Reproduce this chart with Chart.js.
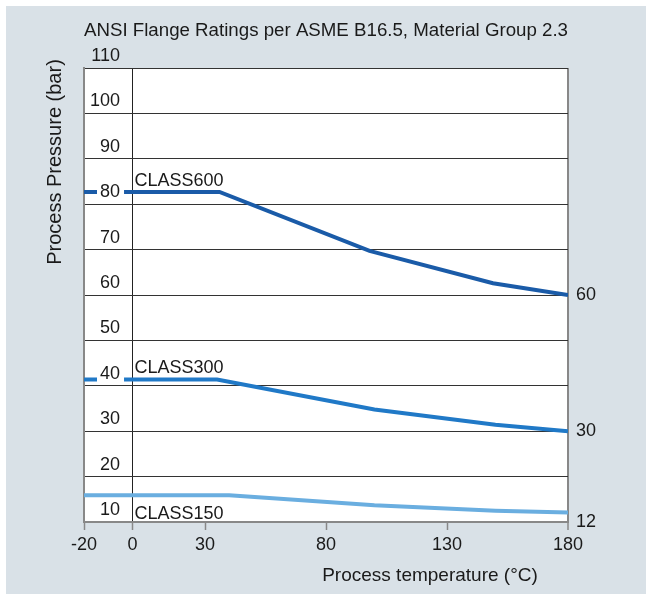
<!DOCTYPE html>
<html>
<head>
<meta charset="utf-8">
<script src="https://cdn.jsdelivr.net/npm/chart.js@4.4.1/dist/chart.umd.min.js"></script>
<style>
  html, body { margin: 0; padding: 0; background: #fff; }
  canvas { display: block; }
</style>
</head>
<body>
<canvas id="grafico" width="646" height="594"></canvas>
<script>
// datos
var xTicks = [-20, 0, 30, 80, 130, 180]
var temps600 = [-20, 36, 98, 149, 180]
var class600 = [82.7, 82.7, 69.7, 62.6, 60.0]
var temps300 = [-20, 35, 100, 150, 180]
var class300 = [41.4, 41.4, 34.8, 31.4, 30.0]
var temps150 = [-20, 40, 100, 150, 180]
var class150 = [15.9, 15.9, 13.7, 12.5, 12.1]
var classNames = ["CLASS600", "CLASS300", "CLASS150"]
var endLabels = ["60", "30", "12"]

var FONT = "'Liberation Sans', Arial, sans-serif"
var colores = ['#1a5ba8', '#2079c7', '#6aaee0']

function puntos(xs, ys){
    return xs.map(function(x, i){ return {x: x, y: ys[i]} })
}

// fondo gris, area blanca y textos sueltos
var textos = {
    id: 'textos',
    beforeDraw: function(chart){
        var c = chart.ctx, a = chart.chartArea
        c.save()
        c.fillStyle = '#d9e1e7'
        c.fillRect(6, 6, 640, 588)
        c.fillStyle = '#fff'
        c.fillRect(a.left, a.top, a.right - a.left, a.bottom - a.top)
        c.restore()
    },
    afterDraw: function(chart){
        var c = chart.ctx, a = chart.chartArea
        var sx = chart.scales.x, sy = chart.scales.y
        c.save()
        c.fillStyle = '#1a1a1a'
        c.textAlign = 'center'
        c.textBaseline = 'middle'
        c.font = '18.7px ' + FONT
        c.fillText("ANSI Flange Ratings per ASME B16.5, Material Group 2.3", (a.left + a.right) / 2, 31)
        c.font = '19px ' + FONT
        c.fillText("Process temperature (°C)", 430, 576)
        c.save()
        c.translate(55, 162)
        c.rotate(-Math.PI / 2)
        c.font = '20px ' + FONT
        c.fillText("Process Pressure (bar)", 0, 0)
        c.restore()

        // nombres de clase
        c.font = '18px ' + FONT
        var x0 = sx.getPixelForValue(0) + 2
        c.textAlign = 'left'
        c.textBaseline = 'alphabetic'
        c.fillText(classNames[0], x0, sy.getPixelForValue(class600[0]) - 6)
        c.fillText(classNames[1], x0, sy.getPixelForValue(class300[0]) - 6)
        c.fillText(classNames[2], x0, a.bottom - 3)

        // valores al final
        c.textBaseline = 'middle'
        var finales = [class600, class300, class150]
        var ajuste = [0, 0, 10]
        for (var i = 0; i < 3; i++){
            var v = finales[i][finales[i].length - 1]
            c.fillText(endLabels[i], a.right + 8, sy.getPixelForValue(v) + ajuste[i])
        }
        c.restore()
    }
}

function crearGrafico(){
    var g = document.getElementById("grafico").getContext('2d')
    new Chart(g, {
        type: 'line',
        data: {
            datasets: [
                {label: classNames[0], data: puntos(temps600, class600), borderColor: colores[0]},
                {label: classNames[1], data: puntos(temps300, class300), borderColor: colores[1]},
                {label: classNames[2], data: puntos(temps150, class150), borderColor: colores[2]}
            ]
        },
        options: {
            responsive: false,
            maintainAspectRatio: false,
            animation: false,
            layout: {padding: {left: 84, top: 68, right: 78, bottom: 0}},
            elements: {
                line: {borderWidth: 4, tension: 0, fill: false},
                point: {radius: 0, hoverRadius: 0}
            },
            plugins: {
                legend: {display: false},
                title: {display: false},
                tooltip: {enabled: false}
            },
            scales: {
                x: {
                    type: 'linear',
                    min: -20,
                    max: 180,
                    afterBuildTicks: function(s){ s.ticks = xTicks.map(function(v){ return {value: v} }) },
                    afterFit: function(s){ s.height = 72 },
                    ticks: {color: '#1a1a1a', font: {size: 18, family: FONT}, padding: 4, maxRotation: 0, autoSkip: false},
                    grid: {
                        color: function(ctx){
                            if (ctx.tick && ctx.tick.value === 0) return '#222'
                            if (ctx.tick && ctx.tick.value === 180) return '#888'
                            return 'rgba(0,0,0,0)'
                        },
                        lineWidth: function(ctx){ return (ctx.tick && ctx.tick.value === 180) ? 2 : 1 },
                        tickColor: '#888',
                        tickWidth: 1.5,
                        tickLength: 8
                    },
                    border: {color: '#888', width: 2}
                },
                y: {
                    min: 10,
                    max: 110,
                    afterFit: function(s){ s.width = 0 },
                    ticks: {
                        stepSize: 10,
                        mirror: true,
                        crossAlign: 'far',
                        padding: 6,
                        labelOffset: -12,
                        z: 1,
                        color: '#1a1a1a',
                        font: {size: 18, family: FONT},
                        showLabelBackdrop: true,
                        backdropColor: function(ctx){ return (ctx.tick && ctx.tick.value < 110) ? '#fff' : 'rgba(0,0,0,0)' },
                        backdropPadding: {top: 0, bottom: 0, left: 3, right: 4}
                    },
                    grid: {color: '#333', lineWidth: 1, drawTicks: false},
                    border: {color: '#888', width: 2}
                }
            }
        },
        plugins: [textos]
    })
}
document.addEventListener('DOMContentLoaded', crearGrafico)
</script>
</body>
</html>
